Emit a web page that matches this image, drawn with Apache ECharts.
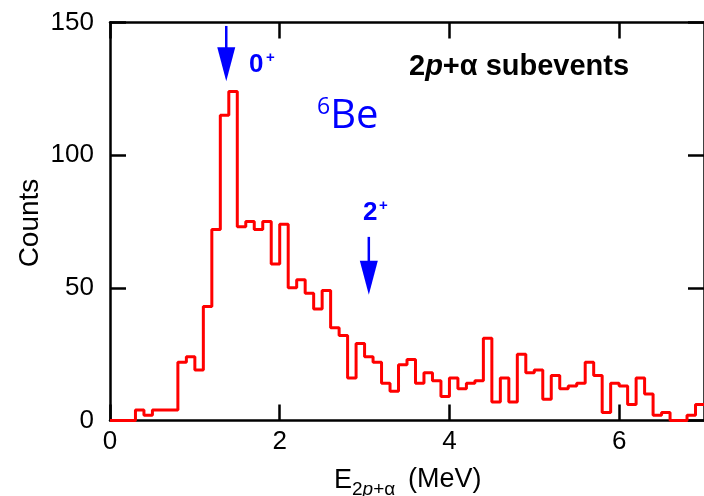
<!DOCTYPE html>
<html>
<head>
<meta charset="utf-8">
<script src="https://cdn.jsdelivr.net/npm/echarts@6/dist/echarts.min.js"></script>
<style>
html,body{margin:0;padding:0;background:#fff;}
#chart{width:704px;height:496px;}
</style>
</head>
<body>
<div id="chart"></div>
<script>
// Bin edges (MeV), 0.1 MeV bins
const binEdges = [0.0,0.1,0.2,0.3,0.4,0.5,0.6,0.7,0.8,0.9,1.0,1.1,1.2,1.3,1.4,1.5,1.6,1.7,1.8,1.9,
  2.0,2.1,2.2,2.3,2.4,2.5,2.6,2.7,2.8,2.9,3.0,3.1,3.2,3.3,3.4,3.5,3.6,3.7,3.8,3.9,
  4.0,4.1,4.2,4.3,4.4,4.5,4.6,4.7,4.8,4.9,5.0,5.1,5.2,5.3,5.4,5.5,5.6,5.7,5.8,5.9,
  6.0,6.1,6.2,6.3,6.4,6.5,6.6,6.7,6.8,6.9,7.0];
// Counts per bin
const counts = [0,0,0,4,2,4,4,4,22,24,19,43,72,115,124,73,75,72,75,59,
  74,50,53,48,42,49,35,32,16,29,24,22,14,11,21,23,14,18,15,9,
  16,12,14,15,31,7,16,7,25,18,19,8,17,12,13,14,22,17,3,14,
  13,6,16,10,2,3,0,0,2,6];
// Arrows marking states: x position, top of shaft, tip (counts)
const arrowX = [1.37, 3.05];
const arrowTop = [148.7, 69.2];
const arrowTip = [127.9, 47.4];
const xTicks = [0, 2, 4, 6];
const yTicks = [0, 50, 100, 150];

const stepData = binEdges.map((e, i) => [e, counts[Math.min(i, counts.length - 1)]]);
const arrowData = arrowX.map((x, i) => [x, arrowTop[i], arrowTip[i]]);

const chart = echarts.init(document.getElementById('chart'), null, {renderer: 'canvas'});
const FONT = '"Liberation Sans", Arial, Helvetica, sans-serif';
const tickStyle = {show: true, inside: true, length: 16, lineStyle: {color: '#000', width: 2.5}};
const lineStyleAx = {show: true, onZero: false, lineStyle: {color: '#000', width: 2.5}};
chart.setOption({
  animation: false,
  backgroundColor: '#fff',
  grid: {left: 110, top: 22.5, width: 597, height: 398, containLabel: false},
  xAxis: [
    {type: 'value', position: 'bottom', min: 0, max: 7, interval: 2,
      axisLine: lineStyleAx, splitLine: {show: false},
      axisTick: Object.assign({}, tickStyle, {customValues: xTicks}),
      axisLabel: {fontSize: 26, color: '#000', fontFamily: FONT, margin: 8, customValues: xTicks}},
    {type: 'value', position: 'top', min: 0, max: 7, interval: 2,
      axisLine: lineStyleAx, splitLine: {show: false},
      axisTick: Object.assign({}, tickStyle, {customValues: xTicks}),
      axisLabel: {show: false}}
  ],
  yAxis: [
    {type: 'value', position: 'left', min: 0, max: 150, interval: 50,
      axisLine: lineStyleAx, splitLine: {show: false},
      axisTick: Object.assign({}, tickStyle, {customValues: yTicks}),
      axisLabel: {fontSize: 26, color: '#000', fontFamily: FONT, margin: 16, customValues: yTicks}},
    {type: 'value', position: 'right', min: 0, max: 150, interval: 50,
      axisLine: lineStyleAx, splitLine: {show: false},
      axisTick: Object.assign({}, tickStyle, {customValues: yTicks}),
      axisLabel: {show: false}}
  ],
  series: [
    {
      type: 'line', step: 'end', data: stepData, showSymbol: false, symbol: 'none',
      lineStyle: {color: '#ff0000', width: 3}, clip: true, z: 3
    },
    {
      type: 'custom', data: arrowData, z: 4,
      renderItem: function (params, api) {
        const top = api.coord([api.value(0), api.value(1)]);
        const tip = api.coord([api.value(0), api.value(2)]);
        const headLen = 34, headW = 9;
        return {
          type: 'group',
          children: [
            {type: 'line', shape: {x1: top[0], y1: top[1], x2: tip[0], y2: tip[1] - headLen + 2},
              style: {stroke: '#0000ff', lineWidth: 2.5}},
            {type: 'polygon', shape: {points: [[tip[0] - headW, tip[1] - headLen], [tip[0] + headW, tip[1] - headLen], [tip[0], tip[1]]]},
              style: {fill: '#0000ff'}}
          ]
        };
      }
    }
  ],
  graphic: [
    {type: 'text', left: 409, top: 52, style: {
      text: '{a|2}{b|p}{a|+α subevents}',
      rich: {
        a: {fontSize: 29, fontWeight: 'bold', fontFamily: FONT, fill: '#000'},
        b: {fontSize: 29, fontWeight: 'bold', fontStyle: 'italic', fontFamily: FONT, fill: '#000'}
      }
    }},
    {type: 'text', left: 317, top: 96, style: {
      text: '{s|6}{a|Be}',
      rich: {
        s: {fontSize: 23, fontFamily: '"Open Sans", "Noto Sans", sans-serif', fill: '#0000ff', verticalAlign: 'top', lineHeight: 42, padding: [0, 0, 19, 0]},
        a: {fontSize: 40, fontFamily: '"Open Sans", "Noto Sans", sans-serif', fill: '#0000ff', lineHeight: 42}
      }
    }},
    {type: 'text', left: 249, top: 52, style: {text: '0', font: 'bold 26px ' + FONT, fill: '#0000ff'}},
    {type: 'text', left: 266, top: 50, style: {text: '+', font: 'bold 15px ' + FONT, fill: '#0000ff'}},
    {type: 'text', left: 363, top: 200, style: {text: '2', font: 'bold 26px ' + FONT, fill: '#0000ff'}},
    {type: 'text', left: 379, top: 198, style: {text: '+', font: 'bold 15px ' + FONT, fill: '#0000ff'}},
    {type: 'text', x: 30, y: 223, rotation: Math.PI / 2, style: {text: 'Counts', font: '28px ' + FONT, fill: '#000', align: 'center', verticalAlign: 'middle'}},
    {type: 'text', left: 334, top: 467, style: {text: 'E', font: '27px ' + FONT, fill: '#000'}},
    {type: 'text', left: 352, top: 480, style: {
      text: '{a|2}{b|p}{a|+α}',
      rich: {
        a: {fontSize: 19, fontFamily: FONT, fill: '#000'},
        b: {fontSize: 19, fontStyle: 'italic', fontFamily: FONT, fill: '#000'}
      }
    }},
    {type: 'text', left: 408, top: 466, style: {text: '(MeV)', font: '27px ' + FONT, fill: '#000'}}
  ]
});
</script>
</body>
</html>
